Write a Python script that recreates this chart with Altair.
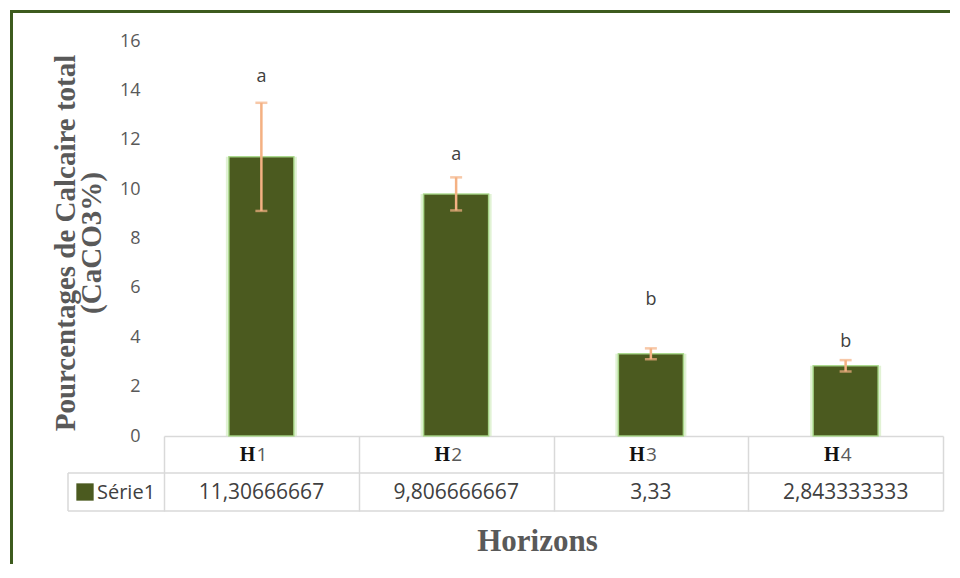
import altair as alt
import pandas as pd

# ---- data ----
horizons = ["H1", "H2", "H3", "H4"]
h_digits = ["1", "2", "3", "4"]
means = [11.30666667, 9.806666667, 3.33, 2.843333333]
table_labels = ["11,30666667", "9,806666667", "3,33", "2,843333333"]
errors = [2.19, 0.67, 0.22, 0.23]
letters = ["a", "a", "b", "b"]
letter_y = [14.55, 11.4, 5.5, 3.82]
series_name = "Série1"
x_title = "Horizons"
y_title = ["Pourcentages de Calcaire total", "(CaCO3%)"]

df = pd.DataFrame({
    "h": horizons,
    "digit": h_digits,
    "mean": means,
    "label": table_labels,
    "lo": [m - e for m, e in zip(means, errors)],
    "hi": [m + e for m, e in zip(means, errors)],
    "letter": letters,
    "ly": letter_y,
})

BAR = "#4B5A1F"
ERR = "#F4B183"
GRID = "#D9D9D9"
BORDER = "#3D5B1E"
SANS = "Open Sans"
SERIF = "Liberation Serif"

W, H = 779, 395

xenc = alt.X("h:N", sort=horizons,
             scale=alt.Scale(paddingInner=0, paddingOuter=0),
             axis=alt.Axis(labels=False, title=x_title, domainColor=GRID, domainWidth=1.5,
                           tickBand="extent", tickSize=75, tickColor=GRID, tickWidth=1.5,
                           titleFont=SERIF, titleFontSize=31, titleFontWeight="bold",
                           titleColor="#595959", titleX=373, titleY=114,
                           titleBaseline="alphabetic", titleAlign="center"))
yscale = alt.Scale(domain=[0, 16])
yaxis = alt.Axis(values=list(range(0, 17, 2)), grid=False, domain=False, ticks=False,
                 labelFont=SANS, labelFontSize=18, labelColor="#595959", labelPadding=24,
                 title=y_title, titleFont=SERIF, titleFontSize=29, titleFontWeight="bold",
                 titleColor="#595959", titleAngle=270, titleX=-113, titleY=H / 2 + 4,
                 titleBaseline="top", titleAlign="center", titleLineHeight=26)

base = alt.Chart(df)

glow = base.mark_bar(size=71, color="#C9E8B0", opacity=0.55).encode(
    x=xenc, y=alt.Y("mean:Q", scale=yscale, axis=yaxis))
bars = base.mark_bar(size=65, color=BAR, stroke="#A9D98A", strokeWidth=1.5, strokeOpacity=0.9).encode(
    x=alt.X("h:N", sort=horizons), y="mean:Q")

err_line = base.mark_rule(color=ERR, strokeWidth=2.5).encode(
    x=alt.X("h:N", sort=horizons), y="lo:Q", y2="hi:Q")
cap_hi = base.mark_tick(color=ERR, size=12, thickness=2.5, orient="horizontal").encode(
    x=alt.X("h:N", sort=horizons), y="hi:Q")
cap_lo = base.mark_tick(color=ERR, size=12, thickness=2.5, orient="horizontal").encode(
    x=alt.X("h:N", sort=horizons), y="lo:Q")

letters_txt = base.mark_text(font=SANS, fontSize=18, color="#404040", baseline="middle").encode(
    x=alt.X("h:N", sort=horizons), y="ly:Q", text="letter:N")

# data table under the plot
hdr_H = base.mark_text(font=SERIF, fontSize=20, fontWeight="bold", color="#111111",
                       align="right", baseline="middle", dx=-6).encode(
    x=alt.X("h:N", sort=horizons), y=alt.value(414), text=alt.value("H"))
hdr_d = base.mark_text(font=SANS, fontSize=19, color="#595959",
                       align="left", baseline="middle", dx=-5).encode(
    x=alt.X("h:N", sort=horizons), y=alt.value(414), text="digit:N")
vals = base.mark_text(font=SANS, fontSize=21, color="#404040", baseline="middle").encode(
    x=alt.X("h:N", sort=horizons), y=alt.value(452), text="label:N")

one = alt.Data(values=[{"k": 1}])
rule_mid = alt.Chart(one).mark_rule(color=GRID, strokeWidth=1.5).encode(
    x=alt.value(-96), x2=alt.value(W), y=alt.value(432))
rule_bot = alt.Chart(one).mark_rule(color=GRID, strokeWidth=1.5).encode(
    x=alt.value(-96), x2=alt.value(W), y=alt.value(470))
rule_left = alt.Chart(one).mark_rule(color=GRID, strokeWidth=1.5).encode(
    x=alt.value(-96), y=alt.value(432), y2=alt.value(470))
legend_sq = alt.Chart(one).mark_square(color=BAR, size=300, opacity=1).encode(
    x=alt.value(-79), y=alt.value(451))
legend_txt = alt.Chart(one).mark_text(font=SANS, fontSize=20, color="#404040",
                                      align="left", baseline="middle").encode(
    x=alt.value(-67), y=alt.value(452), text=alt.value(series_name))

# outer frame
frame_left = alt.Chart(one).mark_rule(color=BORDER, strokeWidth=3).encode(
    x=alt.value(-152.5), y=alt.value(-31), y2=alt.value(540))
frame_top = alt.Chart(one).mark_rule(color=BORDER, strokeWidth=3).encode(
    x=alt.value(-154), x2=alt.value(800), y=alt.value(-29.5))

chart = alt.layer(
    glow, bars, err_line, cap_hi, cap_lo, letters_txt,
    hdr_H, hdr_d, vals, rule_mid, rule_bot, rule_left, legend_sq, legend_txt,
    frame_left, frame_top,
).properties(
    width=W, height=H,
    background="white",
    autosize=alt.AutoSizeParams(type="none"),
    padding={"left": 156, "top": 33, "right": 7, "bottom": 128},
).configure_view(stroke=None)

chart.save("out.html", embed_options={"renderer": "svg", "actions": False})
